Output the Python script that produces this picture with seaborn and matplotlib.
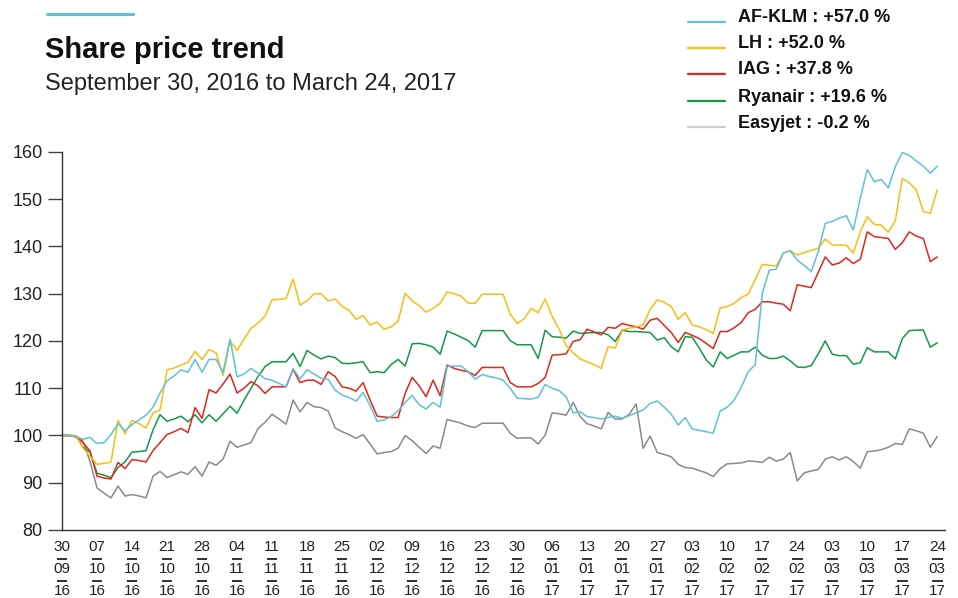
import matplotlib
matplotlib.use("Agg")
import matplotlib.pyplot as plt
import seaborn as sns
import pandas as pd
from matplotlib import transforms
from matplotlib import font_manager as fm

# ---------------- data (index = trading day from 30/09/2016) ----------------
af_klm = [100, 100, 99.8, 99.2, 99.6, 98.3, 98.5, 100.2, 102.5, 101, 102.3, 103.3, 104.3, 106, 109,
          111.6, 112.6, 113.9, 113.4, 116.1, 113.4, 116.1, 116.1, 113.4, 120.4, 112.4, 113, 114.2, 113.2, 112,
          111.7, 111, 110.3, 114.1, 112, 113.9, 113, 112.1, 111.9, 109.6, 108.6, 108, 107.3, 109.1, 106.3,
          103, 103.3, 104, 105.2, 107, 108.5, 106.5, 105.6, 107, 106, 114.6, 114.7, 114.7, 113.5, 111.9,
          112.9, 112.5, 112.2, 111.7, 110, 107.9, 107.8, 107.7, 108.1, 110.8, 110, 109.5, 108.2, 104.8, 105,
          104, 103.8, 103.5, 103.8, 104.1, 103.6, 104.2, 104.8, 105.4, 106.8, 107.3, 106, 104.5, 102.2, 103.8,
          101.4, 101.1, 100.8, 100.5, 105.2, 106, 107.5, 110.2, 113.5, 115, 130, 135, 135.2, 138.6, 139.1,
          137.1, 136, 134.7, 138.9, 144.9, 145.3, 146, 146.5, 143.5, 150.2, 156.3, 153.7, 154.2, 152.4, 156.9,
          159.9, 159.3, 158.1, 157, 155.5, 157]
lh = [100, 100, 100, 97.4, 95.6, 93.9, 94.1, 94.4, 103.2, 100.4, 103.2, 102.5, 101.6, 104.8, 105.4,
      113.9, 114.3, 114.9, 115.5, 117.8, 116.1, 118.2, 117.5, 112.7, 120, 118, 120.4, 122.7, 123.8, 125.3,
      128.7, 128.8, 129, 133.1, 127.6, 128.5, 130, 130, 128.5, 128.9, 127.3, 126.5, 124.6, 125.4, 123.4,
      124, 122.5, 123, 124.2, 130.1, 128.5, 127.5, 126.1, 126.9, 128, 130.4, 130, 129.5, 128, 128,
      129.9, 129.9, 129.9, 129.9, 125.7, 123.7, 124.7, 126.9, 126, 128.9, 125.2, 122.5, 119, 117.5, 116.2,
      115.6, 115, 114.2, 118.8, 118.5, 122.3, 122.7, 123, 123.4, 126.7, 128.7, 128.2, 127.3, 124.6, 126,
      123.4, 123, 122.4, 121.6, 127, 127.3, 128, 129.2, 129.9, 133, 136.2, 136, 135.9, 138.6, 139.1,
      138.2, 138.7, 139.2, 139.6, 141.6, 140.3, 140.3, 140.3, 138.6, 143.1, 146.3, 144.7, 144.5, 143, 145.4,
      154.4, 153.5, 152, 147.4, 147, 152]
iag = [100, 100, 99.7, 98.5, 96.7, 91.4, 91, 90.8, 94.3, 93, 94.9, 94.7, 94.4, 96.8, 98.5,
       100.2, 100.8, 101.5, 100.6, 105.9, 103.6, 109.7, 109, 110.9, 113, 109, 110, 111.4, 110.5, 108.9,
       110.3, 110.3, 110.3, 114, 111.2, 111.7, 111.7, 110.8, 113.5, 112.5, 110.3, 110, 109.4, 111.2, 107.5,
       104.1, 103.9, 103.8, 103.8, 108.9, 112.3, 110.5, 108.2, 111.7, 108.4, 114.9, 114.2, 113.8, 113.5, 112.7,
       114.4, 114.4, 114.4, 114.4, 111.2, 110.3, 110.3, 110.3, 111, 112.3, 117, 117.1, 117.3, 119.9, 120.3,
       122.5, 121.9, 121.3, 122.9, 122.7, 123.7, 123.3, 123, 122.5, 124.4, 124.8, 123.3, 121.8, 119.7, 121.8,
       121.2, 120.5, 119.5, 118.4, 122, 122, 122.8, 123.9, 126, 126.7, 128.3, 128.3, 128, 127.8, 126.4,
       131.9, 131.6, 131.3, 134.5, 137.8, 136.1, 136.5, 137.6, 136.4, 137.3, 143.1, 142.1, 141.9, 141.7, 139.4,
       140.8, 143.1, 142.2, 141.7, 136.8, 137.8]
ryanair = [100, 100, 99.9, 97.5, 96.5, 92, 91.6, 91.1, 93.2, 94.4, 96.5, 96.6, 96.8, 101.2, 104.4,
           103, 103.5, 104.1, 102.9, 104.4, 102.7, 104.4, 103, 104.6, 106.2, 104.7, 107.5, 110, 112.5, 114.6,
           115.6, 115.6, 115.6, 117.4, 114.6, 118, 117, 116.2, 116.8, 116.5, 115.3, 115.2, 115.4, 115.6, 113.3,
           113.5, 113.3, 115, 116.1, 114.7, 119.4, 119.5, 119.2, 118.7, 117.2, 122.1, 121.5, 120.8, 120.1, 118.7,
           122.2, 122.2, 122.2, 122.2, 120.1, 119.2, 119.2, 119.2, 116.3, 122.3, 120.9, 120.8, 120.6, 122.1, 121.6,
           121.7, 121.8, 121.8, 121.3, 119.9, 122.3, 122, 122, 121.9, 121.8, 120.2, 120.7, 118.8, 117.7, 120.9,
           120.8, 118.5, 116, 114.5, 117.7, 116.3, 117, 117.7, 117.7, 118.7, 117, 116.3, 116.3, 116.8, 115.8,
           114.5, 114.4, 114.8, 117.3, 120, 117.2, 116.9, 116.9, 115.1, 115.4, 118.6, 117.7, 117.7, 117.7, 116.2,
           120.5, 122.2, 122.3, 122.3, 118.7, 119.6]
easyjet = [100, 100, 99.9, 98.8, 94.5, 88.9, 87.8, 86.8, 89.3, 87.2, 87.5, 87.2, 86.8, 91.4, 92.4,
           91.1, 91.7, 92.3, 91.8, 93.4, 91.4, 94.4, 93.7, 95, 98.8, 97.5, 98, 98.5, 101.5, 102.8,
           104.5, 103.5, 102.4, 107.5, 105, 107, 106.1, 105.9, 105.2, 101.6, 100.8, 100.2, 99.4, 100.2, 98.2,
           96.1, 96.4, 96.6, 97.3, 100, 98.9, 97.5, 96.2, 97.8, 97.3, 103.4, 103, 102.6, 102, 101.7,
           102.6, 102.6, 102.6, 102.6, 100.5, 99.4, 99.5, 99.5, 98.2, 100.1, 104.8, 104.6, 104.3, 107, 104,
           102.5, 102, 101.4, 104.9, 103.5, 103.5, 104.5, 106.7, 97.3, 99.9, 96.4, 96, 95.5, 93.9, 93.2,
           93.1, 92.6, 92.1, 91.3, 93, 94, 94.1, 94.2, 94.6, 94.5, 94.3, 95.4, 94.6, 95, 96.4,
           90.4, 92.1, 92.5, 92.8, 95, 95.5, 94.8, 95.5, 94.5, 93.1, 96.6, 96.7, 97, 97.5, 98.3,
           98.1, 101.4, 101, 100.5, 97.5, 99.8]

companies = ["AF-KLM", "LH", "IAG", "Ryanair", "Easyjet"]
legend_labels = ["AF-KLM : +57.0 %", "LH : +52.0 %", "IAG : +37.8 %", "Ryanair : +19.6 %", "Easyjet : -0.2 %"]
line_colors = ["#5ec3d3", "#f9bd12", "#e2261c", "#13994a", "#8a8a8a"]
swatch_colors = ["#5ec3d3", "#f9bd12", "#e2261c", "#13994a", "#cdcdcd"]

tick_days = ["30", "07", "14", "21", "28", "04", "11", "18", "25", "02", "09", "16", "23",
             "30", "06", "13", "20", "27", "03", "10", "17", "24", "03", "10", "17", "24"]
tick_months = ["09", "10", "10", "10", "10", "11", "11", "11", "11", "12", "12", "12", "12",
               "12", "01", "01", "01", "01", "02", "02", "02", "02", "03", "03", "03", "03"]
tick_years = ["16", "16", "16", "16", "16", "16", "16", "16", "16", "16", "16", "16", "16",
              "16", "17", "17", "17", "17", "17", "17", "17", "17", "17", "17", "17", "17"]
y_ticks = [80, 90, 100, 110, 120, 130, 140, 150, 160]

series = [af_klm, lh, iag, ryanair, easyjet]
df = pd.concat([pd.DataFrame({"day": range(len(v)), "value": v, "company": c})
                for c, v in zip(companies, series)], ignore_index=True)

# ---------------- style ----------------
sns.set_theme(style="white")
names = {f.name for f in fm.fontManager.ttflist}
base_font = "Liberation Sans" if "Liberation Sans" in names else "DejaVu Sans"
narrow_font = "Liberation Sans Narrow" if "Liberation Sans Narrow" in names else base_font
plt.rcParams["font.family"] = [base_font, "DejaVu Sans"]

fig = plt.figure(figsize=(9.58, 5.98), dpi=100)
ax = fig.add_axes([62 / 958, 1 - 530 / 598, (945 - 62) / 958, (530 - 152) / 598])

sns.lineplot(data=df, x="day", y="value", hue="company", hue_order=companies[::-1],
             palette=dict(zip(companies, line_colors)), linewidth=1.1, legend=False,
             estimator=None, sort=False, ax=ax)

ax.set_xlim(0, 126.1)
ax.set_ylim(80, 160)
ax.set_yticks(y_ticks)
ax.set_yticklabels([str(t) for t in y_ticks], fontsize=13, color="#222222")
ax.tick_params(axis="y", direction="out", length=10, width=1, color="#444444", pad=4, left=True)
ax.set_xticks([])
ax.set_xlabel("")
ax.set_ylabel("")
for s in ["top", "right"]:
    ax.spines[s].set_visible(False)
for s in ["left", "bottom"]:
    ax.spines[s].set_color("#333333")
    ax.spines[s].set_linewidth(1.0)

# three-row x tick labels with separators
tick_pos = [5 * k for k in range(len(tick_days))]
trans = transforms.blended_transform_factory(ax.transData, fig.transFigure)
for x, d, m, yv in zip(tick_pos, tick_days, tick_months, tick_years):
    for txt, yy in [(d, 1 - 547 / 598), (m, 1 - 569 / 598), (yv, 1 - 591 / 598)]:
        ax.text(x, yy, txt, transform=trans, ha="center", va="center", fontsize=11,
                color="#222222", family=[narrow_font, "DejaVu Sans"], clip_on=False)
    for yy in [1 - 558.5 / 598, 1 - 580.5 / 598]:
        ax.plot([x - 0.75, x + 0.75], [yy, yy], transform=trans, color="#222222",
                linewidth=1.3, clip_on=False, solid_capstyle="butt")

# title block
fig.add_artist(plt.Line2D([47 / 958, 133 / 958], [1 - 14 / 598, 1 - 14 / 598],
                          color="#5ec3d3", linewidth=2.2, transform=fig.transFigure))
fig.text(45 / 958, 1 - 50 / 598, "Share price trend", fontsize=21, fontweight="bold",
         color="#111111", ha="left", va="center")
fig.text(45 / 958, 1 - 84 / 598, "September 30, 2016 to March 24, 2017", fontsize=17,
         color="#222222", ha="left", va="center")

# legend drawn manually
row_y = [18, 44, 70, 97, 123]
for lab, col, yy in zip(legend_labels, swatch_colors, row_y):
    fig.add_artist(plt.Line2D([688 / 958, 725 / 958], [1 - (yy + 4) / 598, 1 - (yy + 4) / 598],
                              color=col, linewidth=1.6, transform=fig.transFigure))
    fig.text(738 / 958, 1 - yy / 598, lab, fontsize=13, fontweight="bold", color="#111111",
             ha="left", va="center")

fig.savefig("out.png", dpi=100)
